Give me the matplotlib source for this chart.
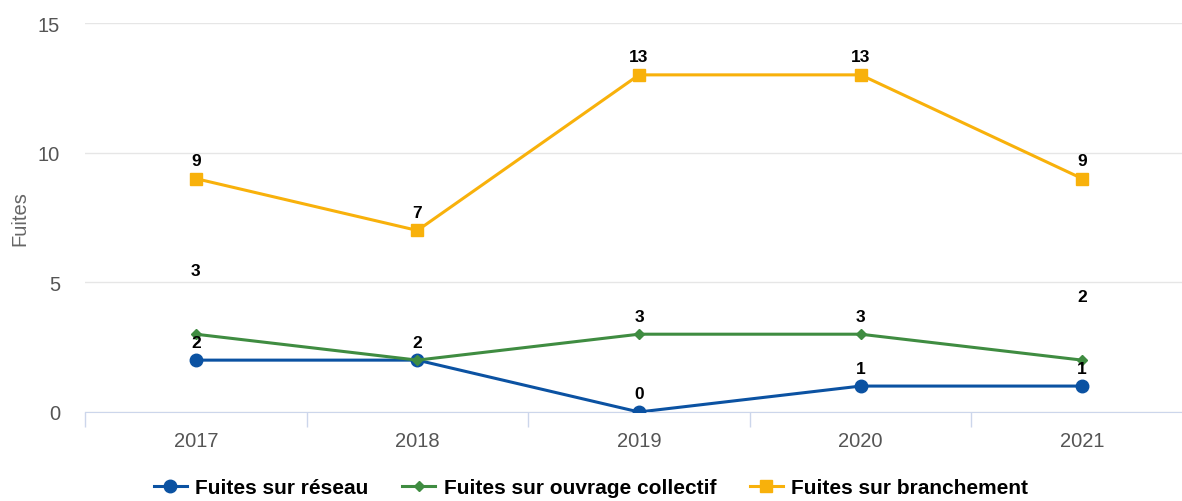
import numpy as np
import matplotlib.pyplot as plt
from matplotlib.lines import Line2D

plt.rcParams["font.family"] = ["Liberation Sans", "DejaVu Sans"]

years = ["2017", "2018", "2019", "2020", "2021"]
reseau = [2, 2, 0, 1, 1]
ouvrage = [3, 2, 3, 3, 2]
branchement = [9, 7, 13, 13, 9]

c_blue = "#0b52a2"
c_green = "#3f8c41"
c_yellow = "#f8b10b"

fig = plt.figure(figsize=(11.82, 5.02), dpi=100)
ax = fig.add_axes([85 / 1182, 89 / 502, 1108 / 1182, 389 / 502])

x = np.arange(len(years))
ax.plot(x, reseau, color=c_blue, lw=2.2, marker="o", ms=9, zorder=3)
ax.plot(x, ouvrage, color=c_green, lw=2.2, marker="D", ms=5.5, zorder=3)
ax.plot(x, branchement, color=c_yellow, lw=2.2, marker="s", ms=9, zorder=3)

lab = dict(ha="center", va="center", fontsize=12.5, fontweight="bold", color="black",
           textcoords="offset points")
for i, v in enumerate(branchement):
    ax.annotate(str(v), (i, v), xytext=(0, 13), **lab)
# green labels: Highcharts pushed the first and last ones up
green_off = [46, 13, 13, 13, 46]
for i, v in enumerate(ouvrage):
    ax.annotate(str(v), (i, v), xytext=(0, green_off[i]), **lab)
for i, v in enumerate(reseau):
    if i == 1:
        continue
    ax.annotate(str(v), (i, v), xytext=(0, 13), **lab)

ax.set_xlim(-0.5, 4.5)
ax.set_ylim(0, 15)
ax.set_yticks([0, 5, 10, 15])
ax.set_xticks(x)
ax.set_xticklabels(years)
ax.set_xticks(np.arange(-0.5, 5, 1), minor=True)
ax.tick_params(axis="x", which="major", length=0, pad=14, labelsize=14.5, labelcolor="#555555")
ax.tick_params(axis="x", which="minor", length=11, color="#ccd6eb", width=1)
ax.tick_params(axis="y", length=0, pad=18, labelsize=14.5, labelcolor="#555555")
ax.grid(axis="y", color="#e6e6e6", lw=1)
ax.set_axisbelow(True)
for s in ["top", "right", "left"]:
    ax.spines[s].set_visible(False)
ax.spines["bottom"].set_color("#ccd6eb")
ax.set_ylabel("Fuites", fontsize=14.5, color="#666666", labelpad=6)

handles = [
    Line2D([], [], color=c_blue, lw=2.2, marker="o", ms=9),
    Line2D([], [], color=c_green, lw=2.2, marker="D", ms=5.5),
    Line2D([], [], color=c_yellow, lw=2.2, marker="s", ms=9),
]
names = ["Fuites sur réseau", "Fuites sur ouvrage collectif", "Fuites sur branchement"]
fig.legend(handles, names, loc="center", bbox_to_anchor=(0.5, 0.027), ncol=3, frameon=False,
           prop={"weight": "bold", "size": 15}, handlelength=1.6, handletextpad=0.4,
           columnspacing=1.6)

fig.savefig("out.png", dpi=100)
